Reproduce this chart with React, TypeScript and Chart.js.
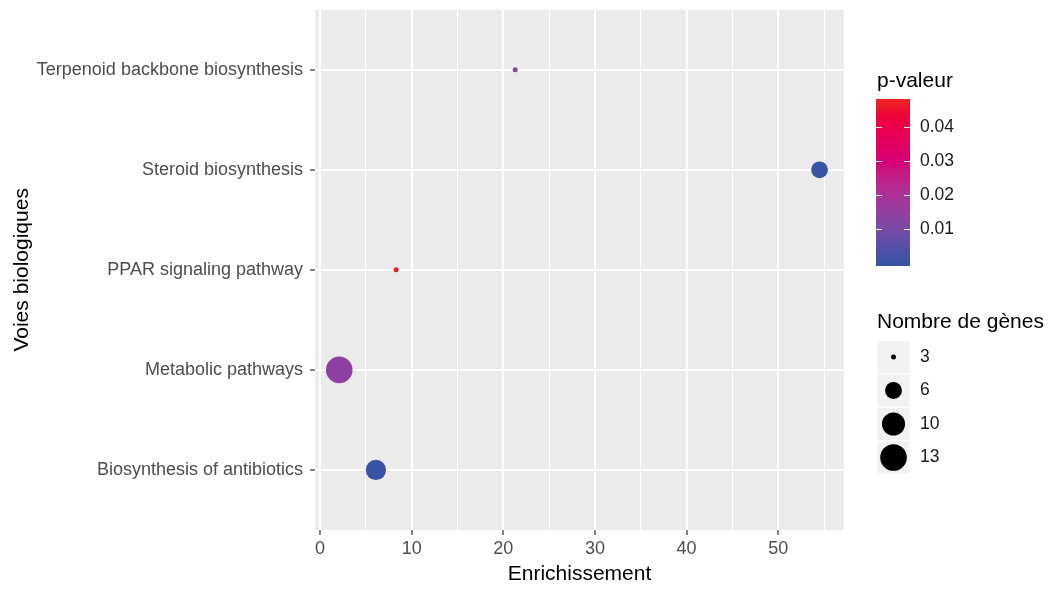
import React, { useEffect, useRef } from "react";
import { Chart, registerables } from "chart.js";
Chart.register(...registerables);

// ---------- data ----------
const categories = [
  "Biosynthesis of antibiotics",
  "Metabolic pathways",
  "PPAR signaling pathway",
  "Steroid biosynthesis",
  "Terpenoid backbone biosynthesis",
];
const enrichment = [6.1, 2.1, 8.3, 54.5, 21.3];
const geneCount = [8, 13, 3, 6, 3];
const pValue = [0.0003, 0.014, 0.047, 0.0002, 0.012];
const xMajorTicks = [0, 10, 20, 30, 40, 50];
const xMinorTicks = [5, 15, 25, 35, 45, 55];
const pBreaks = [0.01, 0.02, 0.03, 0.04];
const sizeBreaks = [3, 6, 10, 13];

// ---------- styles ----------
const FONT = '"Liberation Sans", Arial, sans-serif';
const LOW = "#3953A4";
const HIGH = "#ED2024";

// ---------- colour scale (polar Lab interpolation) ----------
const WX = 0.95047, WY = 1, WZ = 1.08883;
const toLin = (c: number) => {
  c /= 255;
  return c <= 0.04045 ? c / 12.92 : Math.pow((c + 0.055) / 1.055, 2.4);
};
const fromLin = (c: number) => {
  const v = c <= 0.0031308 ? 12.92 * c : 1.055 * Math.pow(c, 1 / 2.4) - 0.055;
  return Math.round(Math.min(1, Math.max(0, v)) * 255);
};
const fl = (t: number) => (t > 216 / 24389 ? Math.cbrt(t) : ((24389 / 27) * t + 16) / 116);
const finv = (t: number) => {
  const t3 = t * t * t;
  return t3 > 216 / 24389 ? t3 : (116 * t - 16) / (24389 / 27);
};
function hexToLch(hex: string) {
  const r = toLin(parseInt(hex.slice(1, 3), 16));
  const g = toLin(parseInt(hex.slice(3, 5), 16));
  const b = toLin(parseInt(hex.slice(5, 7), 16));
  const X = 0.4124 * r + 0.3576 * g + 0.1805 * b;
  const Y = 0.2126 * r + 0.7152 * g + 0.0722 * b;
  const Z = 0.0193 * r + 0.1192 * g + 0.9505 * b;
  const fx = fl(X / WX), fy = fl(Y / WY), fz = fl(Z / WZ);
  const L = 116 * fy - 16, A = 500 * (fx - fy), B = 200 * (fy - fz);
  return [L, Math.hypot(A, B), (Math.atan2(B, A) * 180) / Math.PI];
}
function lchToRgb(L: number, C: number, H: number) {
  const h = (H * Math.PI) / 180;
  const A = C * Math.cos(h), B = C * Math.sin(h);
  const fy = (L + 16) / 116, fx = fy + A / 500, fz = fy - B / 200;
  const X = WX * finv(fx), Y = WY * finv(fy), Z = WZ * finv(fz);
  const r = 3.2406 * X - 1.5372 * Y - 0.4986 * Z;
  const g = -0.9689 * X + 1.8758 * Y + 0.0415 * Z;
  const b = 0.0557 * X - 0.204 * Y + 1.057 * Z;
  return `rgb(${fromLin(r)},${fromLin(g)},${fromLin(b)})`;
}
const lowLch = hexToLch(LOW);
const highLch = hexToLch(HIGH);
const pMin = Math.min(...pValue);
const pMax = Math.max(...pValue);
function colorAtT(t: number) {
  t = Math.min(1, Math.max(0, t));
  let dh = highLch[2] - lowLch[2];
  if (dh > 180) dh -= 360;
  if (dh < -180) dh += 360;
  return lchToRgb(
    lowLch[0] + (highLch[0] - lowLch[0]) * t,
    lowLch[1] + (highLch[1] - lowLch[1]) * t,
    lowLch[2] + dh * t
  );
}
const colorScale = (p: number) => colorAtT((p - pMin) / (pMax - pMin));

// ---------- size scale (area) ----------
const R_MIN = 2.5, R_MAX = 13.3;
const sMin = Math.min(...geneCount);
const sMax = Math.max(...geneCount);
const sizeScale = (v: number) =>
  R_MIN + (R_MAX - R_MIN) * Math.sqrt(Math.max(0, (v - sMin) / (sMax - sMin)));

// ---------- plugin ----------
const decorPlugin = {
  id: "decor",
  beforeDraw(chart: any) {
    const { ctx, chartArea: a } = chart;
    ctx.save();
    ctx.fillStyle = "#EBEBEB";
    ctx.fillRect(a.left, a.top, a.right - a.left, a.bottom - a.top);
    ctx.restore();
  },
  afterDraw(chart: any) {
    const { ctx, chartArea: a } = chart;
    ctx.save();
    // axis titles
    ctx.fillStyle = "#000000";
    ctx.font = `21px ${FONT}`;
    ctx.textAlign = "center";
    ctx.textBaseline = "alphabetic";
    ctx.fillText("Enrichissement", (a.left + a.right) / 2, 580);
    ctx.save();
    ctx.translate(28, (a.top + a.bottom) / 2);
    ctx.rotate(-Math.PI / 2);
    ctx.fillText("Voies biologiques", 0, 0);
    ctx.restore();

    // colour legend
    ctx.textAlign = "left";
    ctx.fillText("p-valeur", 877, 87);
    const bx = 876, bw = 34, bTop = 99, bBot = 266;
    const inset = (bBot - bTop) / 40;
    const y0 = bBot - inset, y1 = bTop + inset;
    const grad = ctx.createLinearGradient(0, y0, 0, y1);
    for (let i = 0; i <= 40; i++) grad.addColorStop(i / 40, colorAtT(i / 40));
    ctx.fillStyle = grad;
    ctx.fillRect(bx, bTop, bw, bBot - bTop);
    const yOf = (p: number) => y0 - ((p - pMin) / (pMax - pMin)) * (y0 - y1);
    ctx.strokeStyle = "#FFFFFF";
    ctx.lineWidth = 1;
    ctx.font = `17.5px ${FONT}`;
    ctx.textBaseline = "middle";
    ctx.fillStyle = "#1A1A1A";
    pBreaks.forEach((b) => {
      const y = Math.round(yOf(b)) + 0.5;
      ctx.beginPath();
      ctx.moveTo(bx, y);
      ctx.lineTo(bx + 6, y);
      ctx.moveTo(bx + bw - 6, y);
      ctx.lineTo(bx + bw, y);
      ctx.stroke();
      ctx.fillText(b.toFixed(2), 920, y);
    });

    // size legend
    ctx.font = `21px ${FONT}`;
    ctx.textBaseline = "alphabetic";
    ctx.fillStyle = "#000000";
    ctx.fillText("Nombre de gènes", 877, 328);
    ctx.font = `17.5px ${FONT}`;
    ctx.textBaseline = "middle";
    sizeBreaks.forEach((b, i) => {
      const top = 341 + i * 33.5;
      ctx.fillStyle = "#F2F2F2";
      ctx.fillRect(877.5, top, 32, 32);
      ctx.fillStyle = "#000000";
      ctx.beginPath();
      ctx.arc(893.5, top + 16, sizeScale(b), 0, Math.PI * 2);
      ctx.fill();
      ctx.fillStyle = "#1A1A1A";
      ctx.fillText(String(b), 920, top + 16);
    });
    ctx.restore();
  },
};

export default function App() {
  const ref = useRef<HTMLCanvasElement | null>(null);
  useEffect(() => {
    if (!ref.current) return;
    const chart = new Chart(ref.current, {
      type: "scatter",
      data: {
        datasets: [
          {
            data: enrichment.map((x, i) => ({ x, y: i + 1 })),
            pointRadius: (c: any) => sizeScale(geneCount[c.dataIndex]),
            pointBackgroundColor: pValue.map(colorScale),
            pointBorderWidth: 0,
            pointBorderColor: "rgba(0,0,0,0)",
            clip: false,
          } as any,
        ],
      },
      options: {
        responsive: false,
        devicePixelRatio: 1,
        animation: false,
        events: [],
        layout: { autoPadding: false, padding: { left: 0, right: 204, top: 9, bottom: 0 } },
        plugins: { legend: { display: false }, tooltip: { enabled: false } },
        scales: {
          x: {
            type: "linear",
            min: -0.545,
            max: 57.17,
            afterBuildTicks: (s: any) => {
              s.ticks = [...xMajorTicks, ...xMinorTicks]
                .sort((p, q) => p - q)
                .map((v) => ({ value: v }));
            },
            afterFit: (s: any) => {
              s.height = 60;
            },
            grid: {
              color: "#FFFFFF",
              lineWidth: (c: any) => (c.tick && c.tick.value % 10 === 0 ? 2 : 1),
              drawTicks: true,
              tickLength: 5,
              tickWidth: 1.2,
              tickColor: (c: any) =>
                c.tick && c.tick.value % 10 === 0 ? "#333333" : "rgba(0,0,0,0)",
            },
            border: { display: false },
            ticks: {
              autoSkip: false,
              maxRotation: 0,
              padding: 3,
              color: "#4D4D4D",
              font: { family: FONT, size: 18 },
              callback: (v: any) => (xMajorTicks.includes(Number(v)) ? String(v) : ""),
            },
          },
          y: {
            type: "linear",
            min: 0.4,
            max: 5.6,
            afterBuildTicks: (s: any) => {
              s.ticks = categories.map((_, i) => ({ value: i + 1 }));
            },
            afterFit: (s: any) => {
              s.width = 315;
            },
            grid: {
              color: "#FFFFFF",
              lineWidth: 2,
              drawTicks: true,
              tickLength: 5,
              tickWidth: 1.2,
              tickColor: "#333333",
            },
            border: { display: false },
            ticks: {
              autoSkip: false,
              padding: 7,
              color: "#4D4D4D",
              font: { family: FONT, size: 18, lineHeight: 0.3 },
              callback: (v: any) => categories[Math.round(Number(v)) - 1] ?? "",
            },
          },
        },
      } as any,
      plugins: [decorPlugin],
    });
    return () => chart.destroy();
  }, []);
  return (
    <div style={{ position: "fixed", left: 0, top: 0, width: 1048, height: 590, background: "#FFFFFF" }}>
      <canvas ref={ref} width={1048} height={590} style={{ display: "block" }} />
    </div>
  );
}
